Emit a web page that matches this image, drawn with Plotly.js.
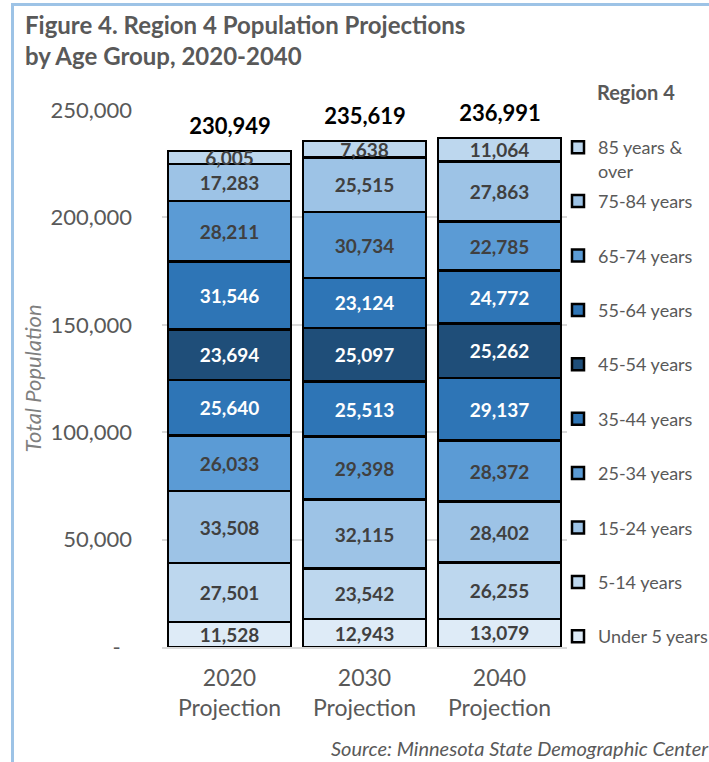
<!DOCTYPE html>
<html>
<head>
<meta charset="utf-8">
<script src="https://cdn.plot.ly/plotly-3.0.1.min.js"></script>
<style>
  html, body { margin: 0; padding: 0; background: #ffffff; }
  #chart { width: 709px; height: 762px; }
</style>
</head>
<body>
<div id="chart"></div>
<script>
// ---- Data ----
var categories = ['2020<br>Projection', '2030<br>Projection', '2040<br>Projection'];
var ageGroups = ['Under 5 years', '5-14 years', '15-24 years', '25-34 years', '35-44 years',
                 '45-54 years', '55-64 years', '65-74 years', '75-84 years', '85 years &amp;<br>over'];
var under5   = [11528, 12943, 13079];
var age5_14  = [27501, 23542, 26255];
var age15_24 = [33508, 32115, 28402];
var age25_34 = [26033, 29398, 28372];
var age35_44 = [25640, 25513, 29137];
var age45_54 = [23694, 25097, 25262];
var age55_64 = [31546, 23124, 24772];
var age65_74 = [28211, 30734, 22785];
var age75_84 = [17283, 25515, 27863];
var age85up  = [6005, 7638, 11064];
var totals   = [230949, 235619, 236991];
var yTickVals = [0, 50000, 100000, 150000, 200000, 250000];
var yTickText = ['-\u00a0\u00a0', '50,000', '100,000', '150,000', '200,000', '250,000'];

var series = [under5, age5_14, age15_24, age25_34, age35_44, age45_54, age55_64, age65_74, age75_84, age85up];
var colors = ['#DEEBF7', '#BDD7EE', '#9DC3E6', '#5B9BD5', '#2E75B6', '#1F4E79', '#2E75B6', '#5B9BD5', '#9DC3E6', '#BDD7EE'];
var textColors = ['#404040', '#404040', '#404040', '#404040', '#ffffff', '#ffffff', '#ffffff', '#404040', '#404040', '#404040'];

var FONT = 'Lato, "Open Sans", sans-serif';
var W = 709, H = 762;
var M = {l: 162, r: 142, t: 110, b: 115};
var plotW = W - M.l - M.r, plotH = H - M.t - M.b;
function px2x(px) { return (px - M.l) / plotW; }
function py2y(py) { return (H - M.b - py) / plotH; }

var traces = [];
var layout = {
  width: W, height: H,
  margin: {l: M.l, r: M.r, t: M.t, b: M.b, pad: 0, autoexpand: false},
  paper_bgcolor: '#ffffff', plot_bgcolor: '#ffffff',
  barmode: 'stack', bargap: 0.09, showlegend: true,
  font: {family: FONT, color: '#595959'},
  title: {
    text: 'Figure 4. Region 4 Population Projections<br>by Age Group, 2020-2040',
    xref: 'container', yref: 'container', x: 25 / W, xanchor: 'left', y: 1 - 34 / H, yanchor: 'top',
    font: {family: FONT, size: 24, weight: 700, color: '#595959'}
  },
  xaxis: {
    type: 'category', automargin: false,
    tickfont: {family: FONT, size: 23, color: '#595959'},
    showgrid: false, zeroline: false, ticks: '', ticklabelstandoff: 9,
    showline: true, linecolor: '#D9D9D9', linewidth: 2, layer: 'above traces'
  },
  yaxis: {
    range: [0, 250000], automargin: false, fixedrange: true,
    tickvals: yTickVals, ticktext: yTickText,
    tickfont: {family: FONT, size: 22, color: '#595959'},
    showgrid: true, gridcolor: '#D9D9D9', gridwidth: 2, zeroline: false, ticks: '',
    ticklabelstandoff: 29,
    title: {text: 'Total Population', standoff: 2, font: {family: FONT, size: 22, style: 'italic', color: '#7F7F7F'}}
  },
  annotations: [],
  shapes: [
    {type: 'line', xref: 'paper', yref: 'paper', x0: px2x(12.5), x1: px2x(12.5), y0: py2y(H + 5), y1: py2y(3), line: {color: '#9DC3E6', width: 3}},
    {type: 'line', xref: 'paper', yref: 'paper', x0: px2x(11), x1: px2x(W + 5), y0: py2y(4.5), y1: py2y(4.5), line: {color: '#9DC3E6', width: 3}}
  ]
};

for (var i = 0; i < series.length; i++) {
  var legId = i === 0 ? 'legend' : 'legend' + (i + 1);
  traces.push({
    type: 'bar', name: ageGroups[i], x: categories, y: series[i],
    marker: {color: colors[i], line: {color: '#000000', width: 2.5}},
    texttemplate: '%{y:,.0f}', textposition: 'inside', insidetextanchor: 'middle',
    textangle: 0, constraintext: 'none',
    insidetextfont: {family: FONT, size: 19, weight: 700, color: textColors[i]},
    hoverinfo: 'skip', legend: legId, showlegend: true
  });
  // legend entries: top entry (85+) at y=147px, evenly spaced 54.4px downwards
  var k = series.length - 1 - i;
  var markerY = 147 + k * 54.4;
  var twoLine = (i === series.length - 1);
  layout[legId] = {
    visible: true,
    xref: 'paper', yref: 'paper',
    x: px2x(558), xanchor: 'left',
    y: py2y(twoLine ? markerY + 12 : markerY), yanchor: 'middle',
    valign: twoLine ? 'top' : 'middle',
    bgcolor: 'rgba(0,0,0,0)', borderwidth: 0,
    font: {family: FONT, size: 18, color: '#595959'}
  };
}

// totals above each bar
for (var j = 0; j < categories.length; j++) {
  layout.annotations.push({
    xref: 'x', yref: 'y', x: categories[j], y: totals[j],
    text: totals[j].toLocaleString('en-US'), showarrow: false,
    yanchor: 'middle', yshift: 26, width: 98, height: 36, bgcolor: '#ffffff',
    font: {family: FONT, size: 22, weight: 700, color: '#000000'}
  });
}
// legend heading
layout.annotations.push({
  xref: 'paper', yref: 'paper', x: px2x(595), xanchor: 'left', y: py2y(92), yanchor: 'middle',
  text: 'Region 4', showarrow: false,
  font: {family: FONT, size: 20, weight: 700, color: '#595959'}
});
// source note
layout.annotations.push({
  xref: 'paper', yref: 'paper', x: px2x(329), xanchor: 'left', y: py2y(748), yanchor: 'middle',
  text: 'Source: Minnesota State Demographic Center', showarrow: false,
  font: {family: FONT, size: 20, style: 'italic', color: '#595959'}
});

Plotly.newPlot('chart', traces, layout, {displayModeBar: false, staticPlot: true});
</script>
</body>
</html>
